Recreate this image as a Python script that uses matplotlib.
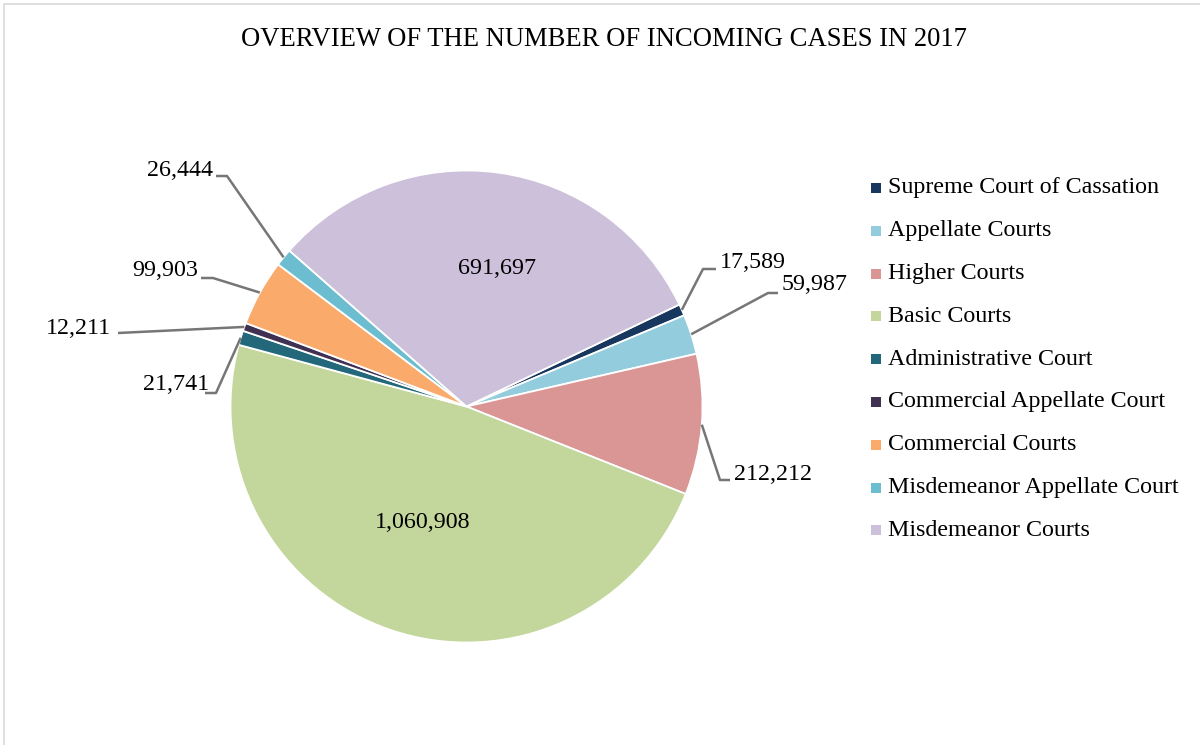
import matplotlib
matplotlib.use("Agg")
import matplotlib.pyplot as plt
import numpy as np
from matplotlib.patches import Rectangle

plt.rcParams['font.family'] = ['Liberation Serif', 'DejaVu Serif']

categories = ["Supreme Court of Cassation", "Appellate Courts", "Higher Courts",
              "Basic Courts", "Administrative Court", "Commercial Appellate Court",
              "Commercial Courts", "Misdemeanor Appellate Court", "Misdemeanor Courts"]
values = [17589, 59987, 212212, 1060908, 21741, 12211, 99903, 26444, 691697]
title = "OVERVIEW OF THE NUMBER OF INCOMING CASES IN 2017"

colors = ["#17375E", "#93CDDD", "#D99694", "#C3D69B", "#23677A",
          "#403152", "#FAAB6C", "#6BBDCF", "#CCC0DA"]

W, H = 1200, 745
fig = plt.figure(figsize=(W / 100, H / 100), dpi=100)
ax = fig.add_axes([0, 0, 1, 1])

# frame border
fig.patches.append(Rectangle((4 / W, -0.05), 1.1, (H - 4) / H + 0.05,
                             transform=fig.transFigure, fill=False,
                             edgecolor="#D9D9D9", linewidth=1.2))

cx, cy, R = 466.5, H - 406.5, 236
wedges, _ = ax.pie(values, colors=colors, startangle=25.6, counterclock=False,
                   center=(cx, cy), radius=R, frame=True,
                   wedgeprops=dict(edgecolor="white", linewidth=1.3))
ax.set_xlim(0, W)
ax.set_ylim(0, H)
ax.set_aspect('equal')
ax.axis('off')

FS = 17.3

def mid_point(w, frac=1.0):
    a = np.deg2rad((w.theta1 + w.theta2) / 2)
    return cx + frac * R * np.cos(a), cy + frac * R * np.sin(a)

def fmt(v):
    return f"{v:,}"

# inside labels (top-down pixel coords)
inside = {3: (423, 522), 8: (497, 268)}
for i, (x, y) in inside.items():
    ax.text(x, H - y, fmt(values[i]), ha='center', va='center', fontsize=FS, color='black')

# outside labels: elbow point, horizontal end, text anchor (top-down pixel coords)
outside = {
    0: ((703, 269), (716, 269), (720, 263), 'left'),
    1: ((768, 293), (778, 293), (782, 285), 'left'),
    2: ((720, 480), (730, 480), (734, 474), 'left'),
    4: ((216, 393), (205, 393), (209, 385), 'right'),
    5: ((118, 333), (118, 333), (111, 328), 'right'),
    6: ((213, 278), (201, 278), (198, 270), 'right'),
    7: ((227, 176), (216, 176), (213, 170), 'right'),
}
for i, (elb, end, txt, ha) in outside.items():
    x0, y0 = mid_point(wedges[i], 1.0)
    xs = [x0, elb[0], end[0]]
    ys = [y0, H - elb[1], H - end[1]]
    ax.plot(xs, ys, color="#767676", linewidth=1.8, solid_capstyle='butt')
    ax.text(txt[0], H - txt[1], fmt(values[i]), ha=ha, va='center',
            fontsize=FS, color='black')

ax.text(604, H - 40, title, ha='center', va='center', fontsize=19.2, color='black')

# legend
leg_y0 = 188
leg_dy = 42.8
for i, name in enumerate(categories):
    y = H - (leg_y0 + i * leg_dy)
    ax.add_patch(Rectangle((871, y - 5), 10, 10, facecolor=colors[i], edgecolor='none'))
    ax.text(888, y, name, ha='left', va='center', fontsize=FS, color='black')

fig.savefig("out.png", dpi=100)
